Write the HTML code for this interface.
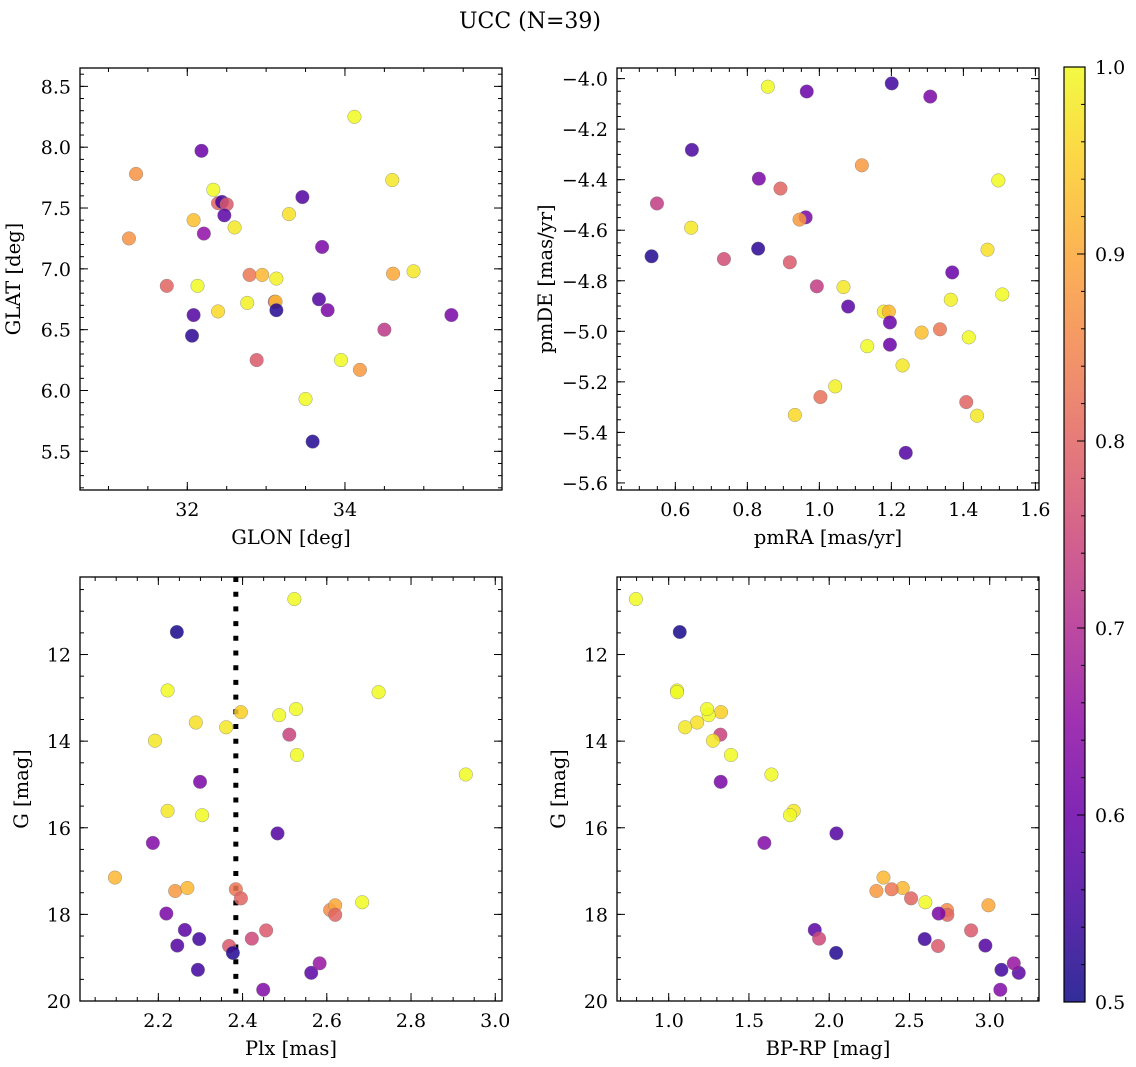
<!DOCTYPE html>
<html><head><meta charset="utf-8"><style>
body{margin:0;background:#fff;}
svg{display:block;font-family:"DejaVu Serif","Liberation Serif",serif;}
</style></head><body>
<svg id="fig" width="1136" height="1067" viewBox="0 0 1136 1067" xmlns="http://www.w3.org/2000/svg">
<text x="530" y="28" font-size="22" text-anchor="middle">UCC (N=39)</text>
</svg>
<script>
// ---- top-left: GLON / GLAT ----
const tlGlon=[31.35,31.26,31.74,32.18,32.33,32.08,32.13,32.08,32.06,32.21,32.39,32.44,32.50,32.47,32.60,32.39,32.79,32.95,33.13,32.76,33.11,33.12,33.13,33.29,33.46,33.71,33.67,33.78,32.88,33.50,33.59,33.95,34.19,34.12,34.50,34.60,34.61,34.87,35.35];
const tlGlat=[7.78,7.25,6.86,7.97,7.65,7.40,6.86,6.62,6.45,7.29,7.54,7.55,7.53,7.44,7.34,6.65,6.95,6.95,6.92,6.72,6.73,6.73,6.66,7.45,7.59,7.18,6.75,6.66,6.25,5.93,5.58,6.25,6.17,8.25,6.50,7.73,6.96,6.98,6.62];
const tlProb=[0.87,0.87,0.80,0.60,1.00,0.93,1.00,0.57,0.53,0.65,0.80,0.55,0.78,0.58,0.98,0.96,0.83,0.92,0.99,0.99,0.75,0.93,0.52,0.97,0.57,0.62,0.57,0.62,0.78,1.00,0.52,1.00,0.88,1.00,0.72,0.98,0.90,0.98,0.62];
// ---- top-right: pmRA / pmDE ----
const trPmra=[0.857,0.965,1.201,1.308,0.646,0.832,0.892,1.118,1.497,0.549,0.644,0.962,0.945,0.534,0.735,0.830,0.918,0.993,1.067,1.080,1.179,1.193,1.196,1.196,1.133,1.231,1.240,1.284,1.335,1.369,1.365,1.467,1.508,1.415,1.408,1.438,1.044,1.003,0.932];
const trPmde=[-4.032,-4.051,-4.019,-4.071,-4.282,-4.396,-4.435,-4.343,-4.403,-4.494,-4.590,-4.549,-4.558,-4.703,-4.714,-4.673,-4.727,-4.822,-4.825,-4.902,-4.922,-4.922,-4.965,-5.053,-5.059,-5.135,-5.481,-5.005,-4.992,-4.767,-4.875,-4.677,-4.854,-5.024,-5.280,-5.334,-5.218,-5.260,-5.331];
const trProb=[1.00,0.60,0.55,0.62,0.56,0.62,0.80,0.88,1.00,0.73,0.98,0.62,0.88,0.52,0.76,0.53,0.78,0.73,0.98,0.58,0.98,0.92,0.60,0.60,1.00,0.98,0.57,0.93,0.83,0.60,0.99,0.97,1.00,1.00,0.80,0.98,0.99,0.82,0.96];
// ---- bottom panels: shared stars ----
const botG=[10.72,11.48,12.83,12.87,13.33,13.40,13.26,13.57,13.68,13.85,13.99,14.32,14.77,14.94,15.61,15.71,16.35,16.13,17.15,17.46,17.39,17.42,17.63,17.72,17.90,17.79,18.01,17.98,18.36,18.57,18.72,19.28,18.73,18.89,18.56,18.37,19.74,19.35,19.13];
const botPlx=[2.523,2.244,2.222,2.723,2.396,2.487,2.527,2.289,2.361,2.511,2.192,2.529,2.930,2.299,2.222,2.304,2.187,2.483,2.097,2.240,2.269,2.384,2.396,2.684,2.608,2.620,2.620,2.219,2.263,2.297,2.245,2.294,2.368,2.377,2.422,2.456,2.449,2.563,2.583];
const botBprp=[0.796,1.069,1.052,1.052,1.326,1.249,1.239,1.177,1.102,1.322,1.276,1.388,1.640,1.324,1.779,1.756,1.596,2.045,2.338,2.294,2.458,2.389,2.510,2.599,2.734,2.992,2.736,2.682,1.910,2.595,2.973,3.073,2.678,2.043,1.937,2.884,3.066,3.181,3.150];
const botProb=[1.00,0.51,1.00,1.00,0.95,1.00,1.00,0.97,0.98,0.74,0.98,1.00,1.00,0.62,0.98,1.00,0.63,0.57,0.92,0.88,0.92,0.83,0.80,1.00,0.86,0.90,0.80,0.62,0.58,0.55,0.57,0.55,0.78,0.52,0.75,0.78,0.63,0.58,0.66];
const plxLine=2.384;
// ---- tick labels ----
const tlXTicks=[32,34], tlYTicks=[5.5,6.0,6.5,7.0,7.5,8.0,8.5];
const trXTicks=[0.6,0.8,1.0,1.2,1.4,1.6], trYTicks=[-5.6,-5.4,-5.2,-5.0,-4.8,-4.6,-4.4,-4.2,-4.0];
const blXTicks=[2.2,2.4,2.6,2.8,3.0], gTicks=[12,14,16,18,20];
const brXTicks=[1.0,1.5,2.0,2.5,3.0];
const cbTicks=[0.5,0.6,0.7,0.8,0.9,1.0];

const NS="http://www.w3.org/2000/svg";
const svg=document.getElementById('fig');
function mk(tag,attrs,parent){const e=document.createElementNS(NS,tag);for(const k in attrs)e.setAttribute(k,attrs[k]);(parent||svg).appendChild(e);return e;}
const stops=[[13,8,135],[65,4,157],[106,0,168],[143,13,164],[177,42,144],[204,71,120],[225,100,98],[242,132,75],[252,166,54],[252,206,37],[240,249,33]];
function plasma(t){t=Math.max(0,Math.min(1,t));const f=t*10,i=Math.min(9,Math.floor(f)),r=f-i;const a=stops[i],b=stops[i+1];return 'rgb('+a.map((v,k)=>Math.round(v+(b[k]-v)*r)).join(',')+')';}
function col(p){return plasma((p-0.5)/0.5);}
const TFS=19, LFS=19.5;

function panel(o){
  const g=mk('g',{});
  
  
  const sx=v=>o.x0+(v-o.xmin)/(o.xmax-o.xmin)*(o.x1-o.x0);
  const sy=o.yinv?(v=>o.y0+(v-o.ymin)/(o.ymax-o.ymin)*(o.y1-o.y0)):(v=>o.y1-(v-o.ymin)/(o.ymax-o.ymin)*(o.y1-o.y0));
  const tk=mk('g',{stroke:'#000','stroke-width':1},g);
  
  
  function xt(v,len){const x=sx(v);if(x<o.x0-0.5||x>o.x1+0.5)return;mk('line',{x1:x,x2:x,y1:o.y1,y2:o.y1-len},tk);mk('line',{x1:x,x2:x,y1:o.y0,y2:o.y0+len},tk);}
  function yt(v,len){const y=sy(v);if(y<o.y0-0.5||y>o.y1+0.5)return;mk('line',{x1:o.x0,x2:o.x0+len,y1:y,y2:y},tk);mk('line',{x1:o.x1,x2:o.x1-len,y1:y,y2:y},tk);}
  for(let v=Math.ceil(o.xmin/o.xminor)*o.xminor;v<=o.xmax;v+=o.xminor)xt(v,4);
  for(let v=Math.ceil(o.ymin/o.yminor)*o.yminor;v<=o.ymax;v+=o.yminor)yt(v,4);
  o.xticks.forEach(v=>{xt(v,8);const t=mk('text',{x:sx(v),y:o.y1+26,'font-size':TFS,'text-anchor':'middle'},g);t.textContent=o.xfmt(v);});
  o.yticks.forEach(v=>{yt(v,8);const t=mk('text',{x:o.x0-9,y:sy(v)+7,'font-size':TFS,'text-anchor':'end'},g);t.textContent=o.yfmt(v).replace('-','\u2212');});
  if(o.vline!==undefined){const l=mk('line',{x1:sx(o.vline),x2:sx(o.vline),y1:o.y0,y2:o.y1,stroke:'#000','stroke-width':5,'stroke-dasharray':'5,9.7'},g);}
  for(let i=0;i<o.xs.length;i++){
    const c=mk('circle',{cx:sx(o.xs[i]),cy:sy(o.ys[i]),r:6.8,fill:col(o.ps[i]),'fill-opacity':0.85,stroke:'#777','stroke-width':0.5,'stroke-opacity':0.7},g);
    
    
  }
  const fr=mk('rect',{x:o.x0,y:o.y0,width:o.x1-o.x0,height:o.y1-o.y0,fill:'none',stroke:'#000','stroke-width':1.3},g);
  
  const xl=mk('text',{x:(o.x0+o.x1)/2,y:o.y1+54,'font-size':LFS,'text-anchor':'middle'},g);xl.textContent=o.xlabel;
  
  const yx=o.x0-o.ylabOff,yy=(o.y0+o.y1)/2;
  const yl=mk('text',{x:yx,y:yy,'font-size':LFS,'text-anchor':'middle',transform:'rotate(-90 '+yx+' '+yy+')'},g);yl.textContent=o.ylabel;
  
}
const f1=v=>v.toFixed(1), f0=v=>String(v);
panel({name:'glon-glat-panel',x0:80,x1:502,y0:68,y1:490,xmin:30.639,xmax:35.992,ymin:5.182,ymax:8.651,xminor:0.5,yminor:0.1,xticks:tlXTicks,yticks:tlYTicks,xfmt:f0,yfmt:f1,xs:tlGlon,ys:tlGlat,ps:tlProb,xlabel:'GLON [deg]',ylabel:'GLAT [deg]',ylabOff:60});
panel({name:'pm-panel',x0:617,x1:1039,y0:68,y1:490,xmin:0.438,xmax:1.610,ymin:-5.628,ymax:-3.958,xminor:0.05,yminor:0.05,xticks:trXTicks,yticks:trYTicks,xfmt:f1,yfmt:f1,xs:trPmra,ys:trPmde,ps:trProb,xlabel:'pmRA [mas/yr]',ylabel:'pmDE [mas/yr]',ylabOff:65});
panel({name:'plx-g-panel',x0:80,x1:502,y0:577,y1:1001,xmin:2.014,xmax:3.016,ymin:10.21,ymax:20.0,yinv:true,xminor:0.05,yminor:0.5,xticks:blXTicks,yticks:gTicks,xfmt:f1,yfmt:f0,xs:botPlx,ys:botG,ps:botProb,xlabel:'Plx [mas]',ylabel:'G [mag]',ylabOff:52,vline:plxLine});
panel({name:'cmd-panel',x0:617,x1:1039,y0:577,y1:1001,xmin:0.678,xmax:3.307,ymin:10.21,ymax:20.0,yinv:true,xminor:0.1,yminor:0.5,xticks:brXTicks,yticks:gTicks,xfmt:f1,yfmt:f0,xs:botBprp,ys:botG,ps:botProb,xlabel:'BP-RP [mag]',ylabel:'G [mag]',ylabOff:52});

// colorbar
const cb=mk('g',{});
const cx0=1064,cx1=1085,cy0=67,cy1=1002;
const defs=mk('defs',{},cb);const lg=mk('linearGradient',{id:'cbg',x1:0,y1:1,x2:0,y2:0},defs);
for(let i=0;i<=20;i++)mk('stop',{offset:i/20,'stop-color':plasma(i/20),'stop-opacity':0.85},lg);
mk('rect',{x:cx0,y:cy0,width:cx1-cx0,height:cy1-cy0,fill:'url(#cbg)'},cb);
const cs=v=>cy1-(v-0.5)/0.5*(cy1-cy0);
for(let v=0.5;v<=1.0001;v+=0.02){const y=cs(v);mk('line',{x1:cx1,x2:cx1-4,y1:y,y2:y,stroke:'#000'},cb);}
cbTicks.forEach(v=>{const y=cs(v);mk('line',{x1:cx1,x2:cx1-8,y1:y,y2:y,stroke:'#000'},cb);const t=mk('text',{x:cx1+10,y:y+7,'font-size':TFS},cb);t.textContent=v.toFixed(1);});
mk('rect',{x:cx0,y:cy0,width:cx1-cx0,height:cy1-cy0,fill:'none',stroke:'#000','stroke-width':1.2},cb);
</script>
</body></html>
